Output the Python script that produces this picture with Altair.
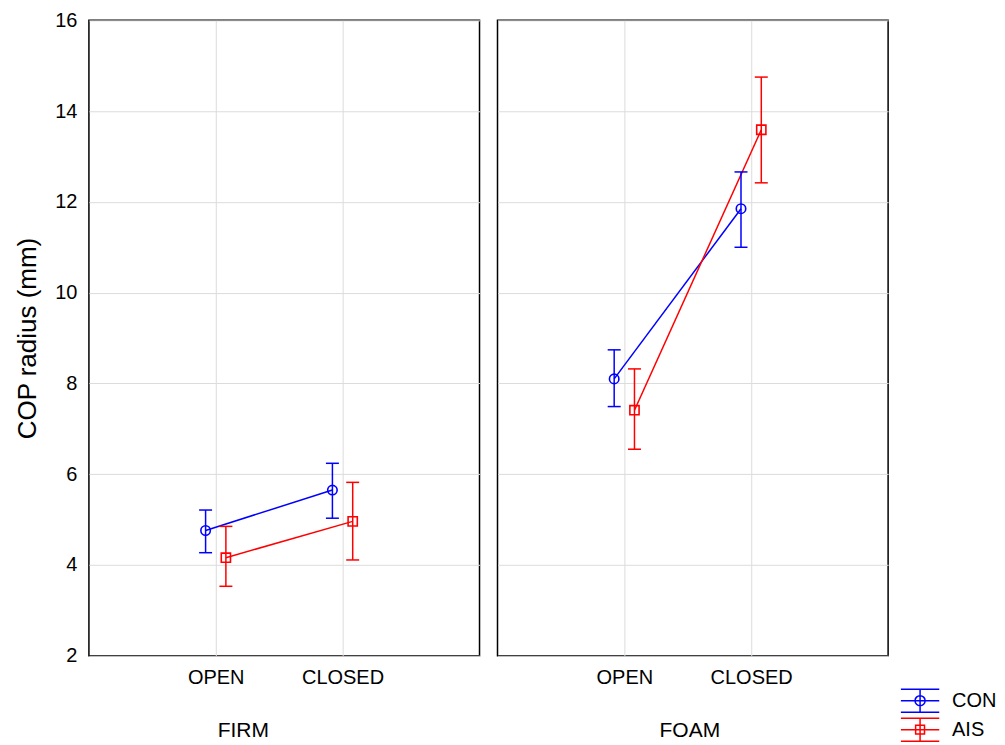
import altair as alt
import pandas as pd

# ---- data ----
surfaces = ["FIRM", "FIRM", "FIRM", "FIRM", "FOAM", "FOAM", "FOAM", "FOAM"]
groups = ["CON", "CON", "AIS", "AIS", "CON", "CON", "AIS", "AIS"]
vision = ["OPEN", "CLOSED", "OPEN", "CLOSED", "OPEN", "CLOSED", "OPEN", "CLOSED"]
means = [4.76, 5.65, 4.16, 4.96, 8.10, 11.85, 7.41, 13.59]
lower = [4.27, 5.03, 3.53, 4.11, 7.49, 11.00, 6.55, 12.42]
upper = [5.21, 6.24, 4.85, 5.82, 8.74, 12.66, 8.32, 14.75]

group_order = ["CON", "AIS"]
vision_labels = ["OPEN", "CLOSED"]
y_ticks = [2, 4, 6, 8, 10, 12, 14, 16]
y_title = "COP radius (mm)"

df = pd.DataFrame({
    "surface": surfaces, "group": groups, "vision": vision,
    "mean": means, "lo": lower, "hi": upper,
})

FONT = "Liberation Sans"
BLUE = "#0000ff"
RED = "#ff0000"

path_con = ("M-1.6,-0.96H1.6M-1.6,0H1.6M-1.6,0.96H1.6M0,-0.96V0.96"
            "M-0.42,0A0.42,0.42,0,1,0,0.42,0A0.42,0.42,0,1,0,-0.42,0")
path_ais = ("M-1.6,-0.96H1.6M-1.6,0H1.6M-1.6,0.96H1.6M0,-0.96V0.96"
            "M-0.37,-0.37H0.37V0.37H-0.37Z")

color_scale = alt.Scale(domain=group_order, range=[BLUE, RED])
shape_scale = alt.Scale(domain=group_order, range=[path_con, path_ais])

leg = alt.Legend(title=None, orient="none", legendX=819, legendY=668,
                 labelFont=FONT, labelFontSize=20, labelColor="black",
                 symbolSize=576, symbolStrokeWidth=1.5, labelOffset=19,
                 rowPadding=-1, padding=0, symbolOpacity=1,
                 symbolFillColor="transparent")


def panel(surface, show_y, title_x, with_legend):
    base = alt.Chart(df).transform_filter(
        alt.datum.surface == surface
    ).transform_calculate(
        pos="indexof(%s, datum.vision) + (datum.group == 'CON' ? -0.08 : 0.08)"
        % str(vision_labels).replace("'", '"')
    )
    x_axis = alt.Axis(
        values=[0, 1],
        labelExpr="datum.value == 0 ? 'OPEN' : 'CLOSED'",
        title=surface, ticks=False, domain=False, grid=True,
        labelPadding=12, labelFontSize=20, titleFontSize=21,
        titlePadding=32, titleX=title_x, titleAlign="center",
    )
    x = alt.X("pos:Q", scale=alt.Scale(domain=[-1, 2.08], nice=False, zero=False),
              axis=x_axis)
    if show_y:
        y_axis = alt.Axis(values=y_ticks, title=y_title, ticks=False, domain=False,
                          grid=True, labelPadding=12, labelFontSize=20,
                          titleFontSize=26, titlePadding=14)
    else:
        y_axis = alt.Axis(values=y_ticks, title=None, ticks=False, domain=False,
                          grid=True, labels=False)
    yscale = alt.Scale(domain=[2, 16], nice=False, zero=False)
    y = alt.Y("mean:Q", scale=yscale, axis=y_axis)
    ylo = alt.Y("lo:Q", scale=yscale, axis=y_axis)
    yhi = alt.Y("hi:Q", scale=yscale, axis=y_axis)
    color = alt.Color("group:N", scale=color_scale, legend=leg)

    layers = []
    if with_legend:
        legend_layer = base.transform_filter("false").mark_point(
            size=576, filled=False, strokeWidth=1.5, opacity=1
        ).encode(
            x=x, y=y, color=color,
            shape=alt.Shape("group:N", scale=shape_scale, legend=leg),
        )
        layers.append(legend_layer)
    line = base.mark_line(strokeWidth=1.5).encode(x=x, y=y, color=color)
    rule = base.mark_rule(strokeWidth=1.5).encode(x=x, y=ylo, y2="hi:Q", color=color)
    cap_lo = base.mark_rule(strokeWidth=1.5, xOffset=-6.5, x2Offset=6.5).encode(
        x=x, x2="pos:Q", y=ylo, color=color)
    cap_hi = base.mark_rule(strokeWidth=1.5, xOffset=-6.5, x2Offset=6.5).encode(
        x=x, x2="pos:Q", y=yhi, color=color)
    circles = base.transform_filter(alt.datum.group == "CON").mark_point(
        shape="circle", size=90, filled=False, strokeWidth=1.6, opacity=1
    ).encode(x=x, y=y, color=color)
    squares = base.transform_filter(alt.datum.group == "AIS").mark_point(
        shape="square", size=85, filled=False, strokeWidth=1.6, opacity=1
    ).encode(x=x, y=y, color=color)
    layers += [line, rule, cap_lo, cap_hi, circles, squares]
    return alt.layer(*layers).properties(width=391, height=636)


left = panel("FIRM", True, 154, True)
right = panel("FOAM", False, 192, False)

chart = alt.hconcat(left, right, spacing=16).properties(
    padding={"left": 6, "top": 1, "right": 0, "bottom": 0}
).configure_view(
    stroke="black", strokeWidth=1.5
).configure_axis(
    labelFont=FONT, titleFont=FONT, labelColor="black", titleColor="black",
    titleFontWeight="normal", gridColor="#dcdcdc", gridWidth=1,
)

chart.save("out.html", embed_options={"renderer": "svg", "actions": False})
